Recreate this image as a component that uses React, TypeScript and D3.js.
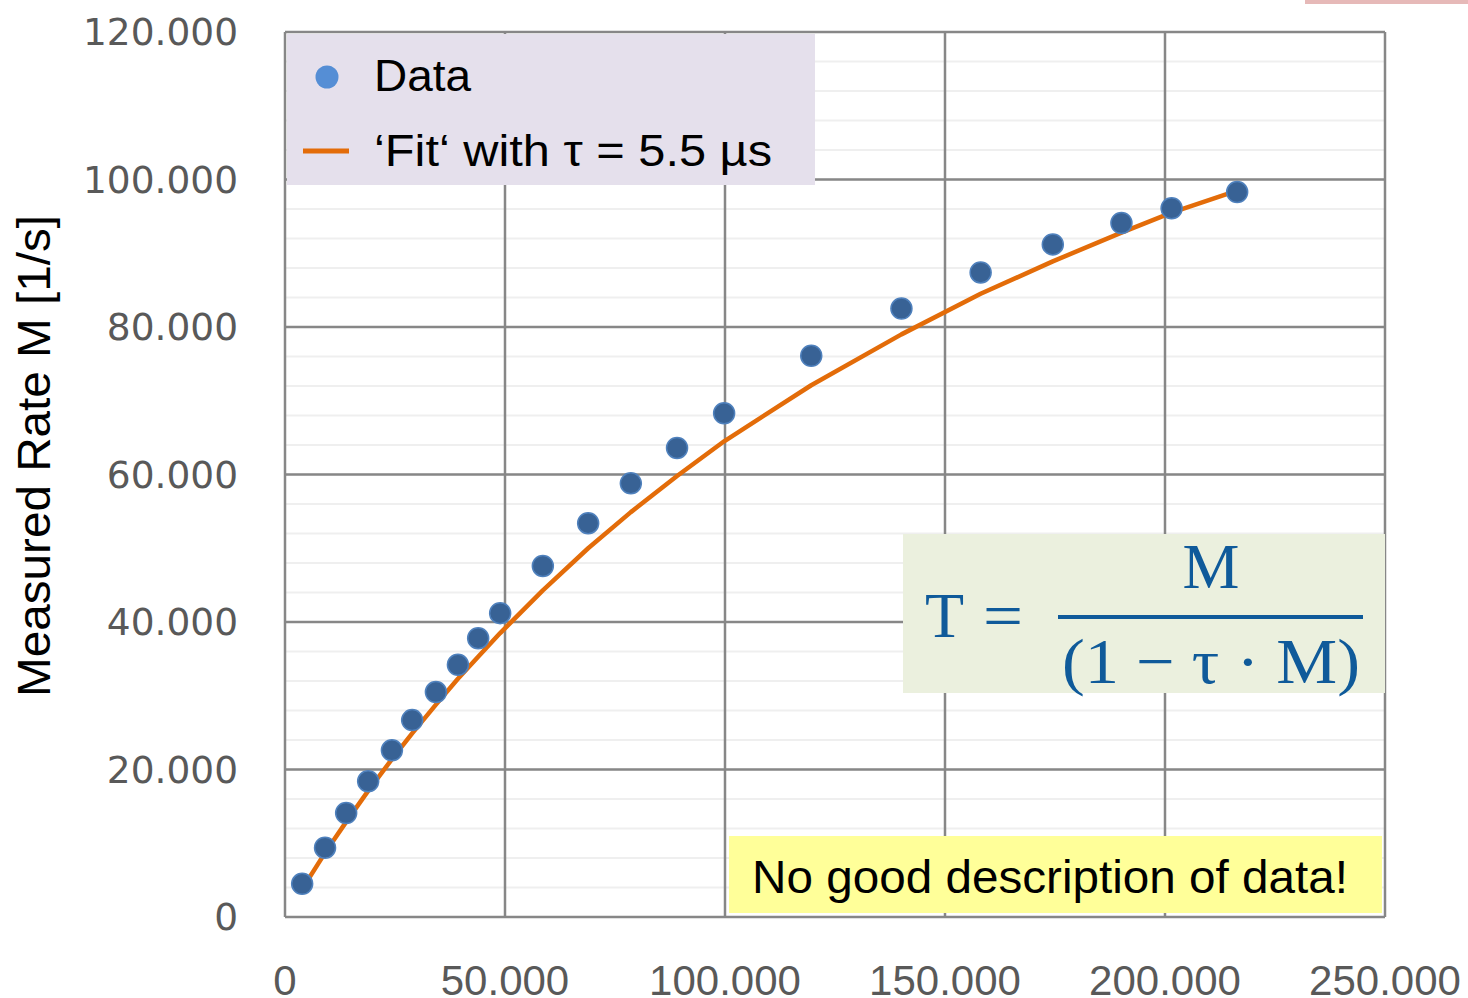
import React from "react";
import * as d3 from "d3";

// true rate T [1/s] vs measured rate M [1/s]
const trueRate = [3900, 9100, 13900, 18900, 24300, 28900, 34300, 39300, 43900, 48900, 58600, 68900, 78600, 89100, 99800, 119600, 140100, 158100, 174500, 190100, 201500, 216400];
const measured = [4500, 9400, 14100, 18400, 22600, 26700, 30500, 34200, 37800, 41200, 47600, 53400, 58800, 63600, 68300, 76100, 82500, 87400, 91200, 94100, 96100, 98300];
const fitRate = [3800, 8700, 12900, 17100, 21400, 24900, 28800, 32300, 35300, 38500, 44300, 50000, 54900, 59800, 64500, 72100, 79000, 84500, 88900, 92800, 95500, 98500];

const xTicks = [0, 50000, 100000, 150000, 200000, 250000];
const yTicks = [0, 20000, 40000, 60000, 80000, 100000, 120000];
const yMinorTicks = d3.range(0, 120001, 4000);

const legendLabels = ["Data", "\u2018Fit\u2018 with \u03c4 = 5.5 \u00b5s"];

const W = 1468;
const H = 998;
const margin = { left: 285, right: 83, top: 32, bottom: 81 };

const fmt = (v: number) => (v === 0 ? "0" : d3.format(",")(v).replace(/,/g, "."));

export default function App() {
  const x = d3.scaleLinear().domain([0, 250000]).range([margin.left, W - margin.right]);
  const y = d3.scaleLinear().domain([0, 120000]).range([H - margin.bottom, margin.top]);

  const line = d3
    .line<number>()
    .x((d, i) => x(trueRate[i]))
    .y((d) => y(d));

  const grid = "#878787";
  const blue = "#0f5a9a";

  return (
    <svg width={W} height={H} style={{ position: "absolute", left: 0, top: 0, background: "#fff" }}>
      <rect x={1305} y={0} width={163} height={4} fill="#e6b9b8" />

      {/* minor grid */}
      {yMinorTicks.map((t) => (
        <line key={"m" + t} x1={x(0)} x2={x(250000)} y1={y(t)} y2={y(t)} stroke="#efefef" strokeWidth={2} />
      ))}
      {/* major grid */}
      {yTicks.map((t) => (
        <line key={"y" + t} x1={x(0)} x2={x(250000)} y1={y(t)} y2={y(t)} stroke={grid} strokeWidth={2.5} />
      ))}
      {xTicks.map((t) => (
        <line key={"x" + t} x1={x(t)} x2={x(t)} y1={y(0)} y2={y(120000)} stroke={grid} strokeWidth={2.5} />
      ))}

      {/* legend box */}
      <rect x={287} y={34} width={528} height={151} fill="#e5e0ec" />
      <circle cx={327} cy={77} r={11.5} fill="#558ed5" />
      <line x1={303} x2={349} y1={151} y2={151} stroke="#e36c09" strokeWidth={5} />
      <text x={374} y={91} fontFamily="Liberation Sans, Arial" fontSize={45} fill="#000" textLength={97} lengthAdjust="spacingAndGlyphs">
        {legendLabels[0]}
      </text>
      <text x={374} y={166} fontFamily="Liberation Sans, Arial" fontSize={44} fill="#000" textLength={398} lengthAdjust="spacingAndGlyphs">
        {legendLabels[1]}
      </text>

      {/* formula box */}
      <rect x={903} y={534} width={482} height={159} fill="#ebf0de" />
      <g fill={blue} fontFamily="Liberation Serif, DejaVu Serif, serif" fontSize={64}>
        <text x={925} y={637}>T</text>
        <text x={983} y={637} textLength={40} lengthAdjust="spacingAndGlyphs">=</text>
        <text x={1211} y={588} textAnchor="middle">M</text>
        <rect x={1058} y={615} width={305} height={4} />
        <text x={1062} y={683} textLength={298} lengthAdjust="spacingAndGlyphs">{"(1  \u2212 \u03c4 \u00b7 M)"}</text>
      </g>

      {/* yellow note */}
      <rect x={729} y={836} width={653} height={77} fill="#ffff99" />
      <text x={752} y={893} fontFamily="Liberation Sans, Arial" fontSize={47} fill="#000" textLength={596} lengthAdjust="spacingAndGlyphs">
        No good description of data!
      </text>

      {/* fit line */}
      <path d={line(fitRate) || ""} fill="none" stroke="#e36c09" strokeWidth={4.5} strokeLinejoin="round" />

      {/* data points */}
      {measured.map((m, i) => (
        <circle key={i} cx={x(trueRate[i])} cy={y(m)} r={10.5} fill="#386295" stroke="#4f81bd" strokeWidth={1.5} />
      ))}

      {/* axis labels */}
      {yTicks.map((t) => (
        <text key={"yl" + t} x={238} y={y(t) + 13} textAnchor="end" fontFamily="DejaVu Sans, Verdana" fontSize={37.5} fill="#595959">
          {fmt(t)}
        </text>
      ))}
      {xTicks.map((t) => (
        <text key={"xl" + t} x={x(t)} y={995} textAnchor="middle" fontFamily="Liberation Sans, Arial" fontSize={42} fill="#595959">
          {fmt(t)}
        </text>
      ))}
      <text
        transform={`translate(50, 456) rotate(-90)`}
        textAnchor="middle"
        fontFamily="Liberation Sans, Arial"
        fontSize={46}
        fill="#000"
        textLength={482}
        lengthAdjust="spacingAndGlyphs"
      >
        Measured Rate M [1/s]
      </text>
    </svg>
  );
}
